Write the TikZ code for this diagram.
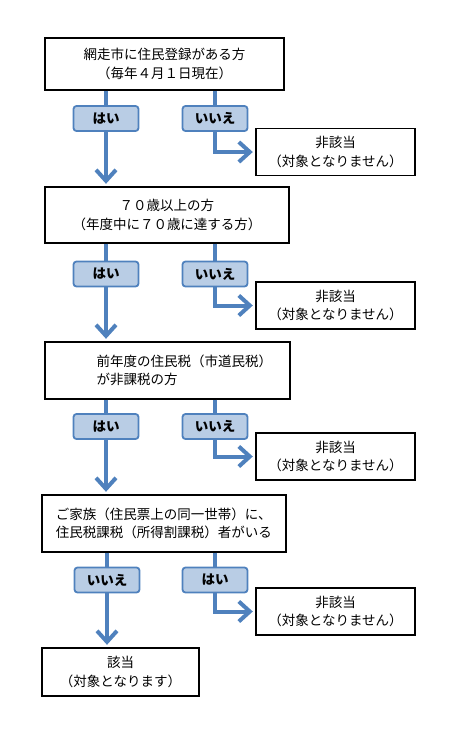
\documentclass[tikz,border=0pt]{standalone}
\usepackage{fontspec}
\setmainfont{Noto Sans CJK JP}
\usetikzlibrary{arrows.meta,positioning}

\definecolor{flowblue}{HTML}{4F81BD}
\definecolor{tagblue}{HTML}{B9CDE5}
\newcommand\boxfont{\fontsize{13.5}{18.5}\selectfont}

\tikzset{
	qbox/.style={draw, line width=1.4pt, inner sep=0pt, align=center, font=\boxfont},
	nobox/.style={qbox, minimum width=159pt, minimum height=47pt},
	tag/.style={draw=flowblue, fill=tagblue, line width=1.8pt, rounded corners=3pt,
		minimum width=65pt, minimum height=25pt, inner sep=0pt, font=\boxfont\bfseries},
	flow/.style={draw=flowblue, line width=4pt},
	flowtip/.style={flow, -{Straight Barb[length=11pt,width=20pt]}, shorten >=2.5pt}
}

\begin{document}
\begin{tikzpicture}[x=1pt, y=-1pt]
	\useasboundingbox (0,0) rectangle (453,732);

	% Question boxes
	\node[qbox, minimum width=239pt, minimum height=52pt] (q1) at (164.5,64) {網走市に住民登録がある方\\（毎年４月１日現在）};
	\node[qbox, minimum width=244pt, minimum height=56pt] (q2) at (167,215) {７０歳以上の方\\（年度中に７０歳に達する方）};
	\node[qbox, minimum width=245pt, minimum height=57pt] (q3) at (167.5,370.5) {};
	\node[font=\boxfont, align=left, inner sep=0pt, anchor=west, right=52pt of q3.west] (q3t) {前年度の住民税（市道民税）\\が非課税の方};
	\node[qbox, align=left, minimum width=244pt, minimum height=57pt] (q4) at (164,523.5) {ご家族（住民票上の同一世帯）に、\\住民税課税（所得割課税）者がいる};

	% Result
	\node[qbox, minimum width=157pt, minimum height=48pt] (res) at (120.5,672) {該当\\（対象となります）};

	% Not applicable boxes
	\node[nobox] (n1) at (335.5,152) {非該当\\（対象となりません）};
	\node[nobox] (n2) at (335.5,305.5) {非該当\\（対象となりません）};
	\node[nobox] (n3) at (335.5,456.5) {非該当\\（対象となりません）};
	\node[nobox] (n4) at (335.5,611.5) {非該当\\（対象となりません）};

	% Left tags
	\node[tag] (l1) at (106,118.5) {はい};
	\node[tag] (l2) at (106,274) {はい};
	\node[tag] (l3) at (106,426.5) {はい};
	\node[tag] (l4) at (107,580) {いいえ};

	% Right tags
	\node[tag] (r1) at (215,118.5) {いいえ};
	\node[tag] (r2) at (215,274) {いいえ};
	\node[tag] (r3) at (215,426.5) {いいえ};
	\node[tag] (r4) at (215,580) {はい};

	% Arrows
	\foreach \i/\nxt in {1/q2,2/q3,3/q4,4/res} {
			\draw[flow] (l\i |- q\i.south) -- (l\i.north);
			\draw[flowtip] (l\i.south) -- (l\i |- \nxt.north);
			\draw[flow] (r\i |- q\i.south) -- (r\i.north);
			\draw[flowtip] (r\i.south) |- (n\i.west);
		}

\end{tikzpicture}
\end{document}
